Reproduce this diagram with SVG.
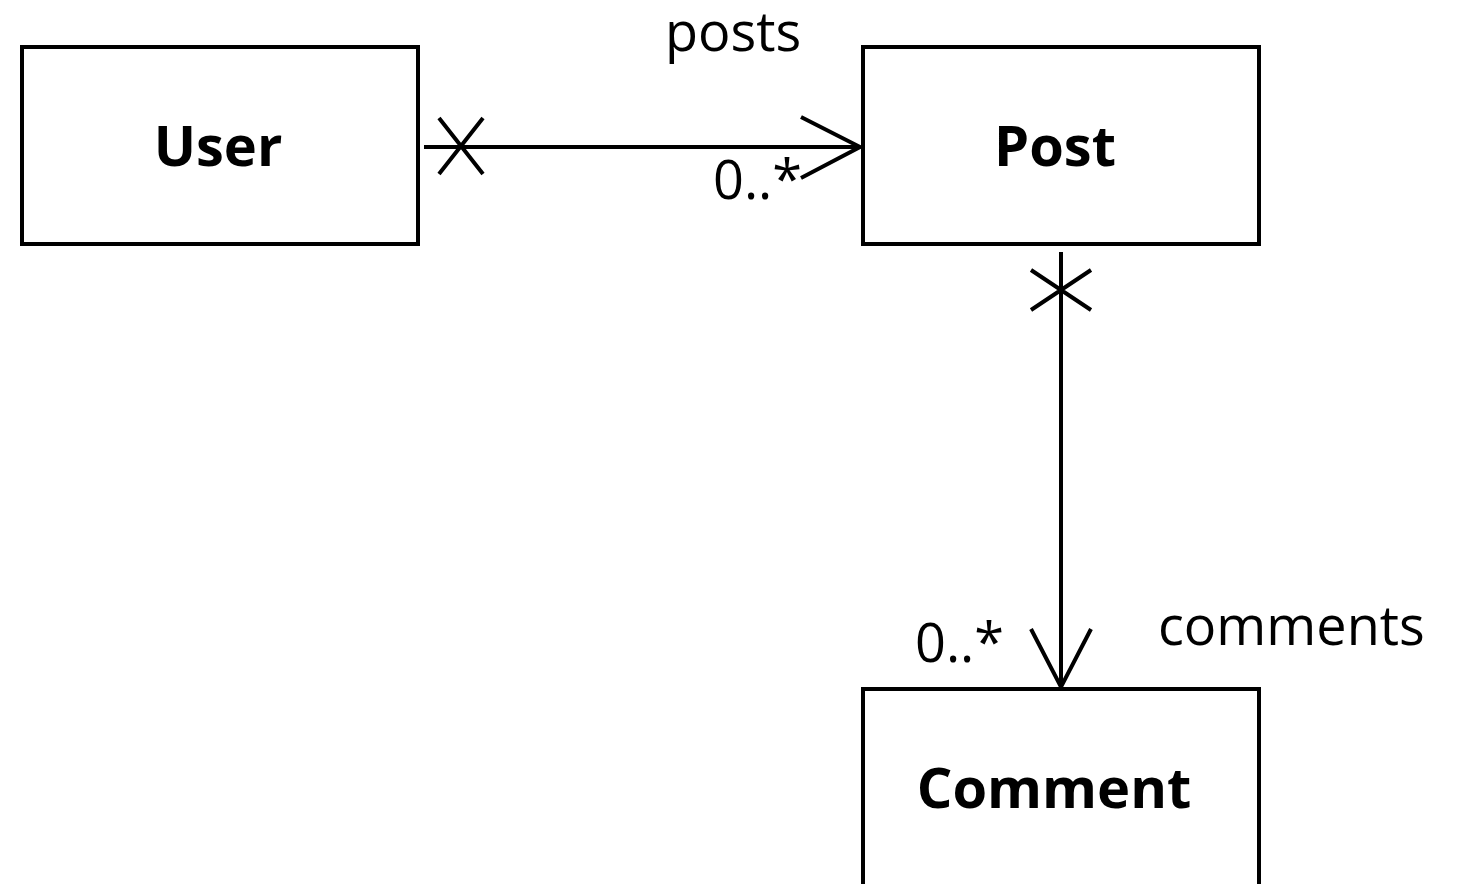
<svg xmlns="http://www.w3.org/2000/svg" width="1463" height="884" viewBox="0 0 1463 884">
<style>
.box{fill:#fff;stroke:#000;stroke-width:4}
.name{font-family:"Open Sans","DejaVu Sans",sans-serif;font-weight:bold;font-size:56px;text-anchor:middle;fill:#000}
.lbl{font-family:"Open Sans","DejaVu Sans",sans-serif;font-size:54px;fill:#000}
.ln{fill:none;stroke:#000;stroke-width:4}
</style>
<rect width="1463" height="884" fill="#fff"/>
<g id="connectors">
<path class="ln" d="M424 147 H860"/>
<path class="ln" d="M439 118 L483 174 M483 118 L439 174"/>
<path class="ln" d="M801 117 L860 147 L801 178"/>
<path class="ln" d="M1061 252 V687"/>
<path class="ln" d="M1031 270 L1091 310 M1091 270 L1031 310"/>
<path class="ln" d="M1031 629 L1061 687 L1091 629"/>
<text class="lbl" x="665" y="51">posts</text>
<text class="lbl" x="713" y="199">0..*</text>
<text class="lbl" x="1158" y="645">comments</text>
<text class="lbl" x="915" y="662">0..*</text>
</g>
<g id="User">
<rect class="box" x="22" y="47" width="396" height="197"/>
<text class="name" x="218" y="166">User</text>
</g>
<g id="Post">
<rect class="box" x="863" y="47" width="396" height="197"/>
<text class="name" x="1055" y="166">Post</text>
</g>
<g id="Comment">
<rect class="box" x="863" y="689" width="396" height="220"/>
<text class="name" x="1054" y="808">Comment</text>
</g>
</svg>
